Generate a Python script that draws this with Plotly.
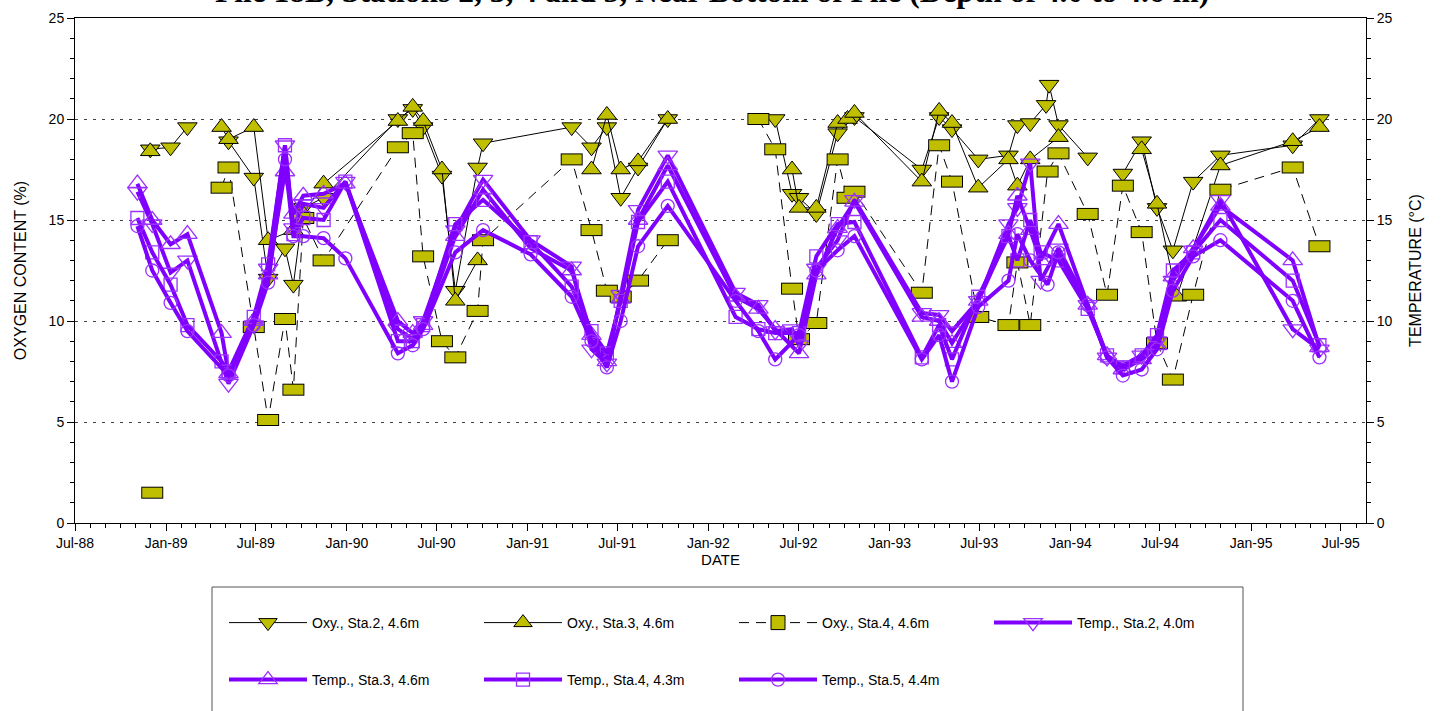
import plotly.graph_objects as go

# ---------------- DATA ----------------
# (None marks a gap in sampling: the line is broken there)
oxy2_dates = ["1988-11-30", "1989-01-10", "1989-02-13", "1989-03-25", "1989-05-07", "1989-06-27",
              "1989-07-26", "1989-08-29", "1989-09-15", "1989-10-05", "1989-11-15", "1990-04-14",
              "1990-05-14", "1990-06-04", "1990-07-12", "1990-08-08", "1990-09-22", "1990-10-03",
              "1991-03-31", "1991-05-10", "1991-06-10", "1991-07-08", "1991-08-12", "1991-10-11",
              "1992-01-15", "1992-05-15", "1992-06-18", "1992-07-02", "1992-08-06", "1992-09-18",
              "1992-10-22", "1993-03-07", "1993-04-11", "1993-05-07", "1993-06-29", "1993-08-29",
              "1993-09-16", "1993-10-12", "1993-11-13", "1993-11-19", "1993-12-08", "1994-02-05",
              "1994-03-10", "1994-04-17", "1994-05-25", "1994-06-25", "1994-07-27", "1994-09-06",
              "1994-10-31", "1995-03-26", "1995-05-19"]
oxy2_vals = [18.5, 18.6, 19.6, None, 18.9, 17.1,
             12.1, 13.6, 11.8, 15.6, 16.1, 20.0,
             20.5, 19.6, 17.2, 11.5, 17.6, 18.8,
             19.6, 18.6, 19.6, 16.1, 17.6, 20.0,
             None, 20.0, 16.3, 16.1, 15.3, 19.3,
             20.1, 17.5, 20.1, 19.5, 18.0, 18.2,
             19.7, 19.8, 20.7, 21.7, 19.7, 18.1,
             None, 17.3, 18.9, 15.6, 13.5, 16.9,
             18.2, 18.7, 20.0]

oxy3_dates = ["1988-11-30", "1989-02-01", "1989-04-23", "1989-05-07", "1989-06-27", "1989-07-26",
              "1989-09-15", "1989-10-05", "1989-11-15", "1990-04-14", "1990-05-14", "1990-06-04",
              "1990-07-12", "1990-08-08", "1990-09-22", "1991-01-15", "1991-05-10", "1991-06-10",
              "1991-07-08", "1991-08-12", "1991-10-11", "1992-01-15", "1992-06-18", "1992-07-02",
              "1992-08-06", "1992-09-18", "1992-10-08", "1992-10-22", "1993-03-07", "1993-04-11",
              "1993-05-07", "1993-06-29", "1993-08-29", "1993-09-16", "1993-10-12", "1993-12-08",
              "1994-03-10", "1994-05-25", "1994-06-25", "1994-08-04", "1994-10-31", "1995-03-26",
              "1995-05-19"]
oxy3_vals = [18.4, None, 19.6, 19.0, 19.6, 14.0,
             14.5, 15.3, 16.8, 19.9, 20.6, 19.9,
             17.5, 11.0, 13.0, None, 17.5, 20.2,
             17.5, 17.9, 20.0, None, 17.5, 15.6,
             15.6, 19.8, 20.0, 20.3, 16.9, 20.4,
             19.8, 16.6, 18.0, 16.7, 18.0, 19.1,
             None, 18.5, 15.8, 11.2, 17.7, 18.9,
             19.6]

oxy4_dates = ["1988-12-04", "1989-02-15", "1989-04-23", "1989-05-07", "1989-06-27", "1989-07-26",
              "1989-08-29", "1989-09-15", "1989-10-05", "1989-11-15", "1990-04-14", "1990-05-14",
              "1990-06-04", "1990-07-12", "1990-08-08", "1990-09-22", "1990-10-03", "1991-03-31",
              "1991-05-10", "1991-06-10", "1991-07-08", "1991-08-12", "1991-10-11", "1992-01-15",
              "1992-04-11", "1992-05-15", "1992-06-18", "1992-07-02", "1992-08-06", "1992-09-18",
              "1992-10-08", "1992-10-22", "1993-03-07", "1993-04-11", "1993-05-07", "1993-06-29",
              "1993-08-29", "1993-09-16", "1993-10-12", "1993-11-16", "1993-12-08", "1994-02-05",
              "1994-03-16", "1994-04-17", "1994-05-25", "1994-06-25", "1994-07-27", "1994-09-06",
              "1994-10-31", "1995-03-26", "1995-05-19"]
oxy4_vals = [1.5, None, 16.6, 17.6, 9.7, 5.1,
             10.1, 6.6, 15.1, 13.0, 18.6, 19.3,
             13.2, 9.0, 8.2, 10.5, 14.0, 18.0,
             14.5, 11.5, 11.2, 12.0, 14.0, None,
             20.0, 18.5, 11.6, 9.1, 9.9, 18.0,
             16.1, 16.4, 11.4, 18.7, 16.9, 10.2,
             9.8, 12.9, 9.8, 17.4, 18.3, 15.3,
             11.3, 16.7, 14.4, 8.9, 7.1, 11.3,
             16.5, 17.6, 13.7]

temp2_dates = ["1988-11-04", "1988-12-04", "1989-01-10", "1989-02-13", "1989-05-07", "1989-06-27",
               "1989-07-26", "1989-08-29", "1989-09-15", "1989-10-05", "1989-11-15", "1989-12-29",
               "1990-04-14", "1990-05-14", "1990-06-04", "1990-08-08", "1990-10-03", "1991-01-07",
               "1991-03-31", "1991-05-10", "1991-06-10", "1991-07-08", "1991-08-12", "1991-10-11",
               "1992-02-25", "1992-04-11", "1992-05-15", "1992-06-18", "1992-07-02", "1992-08-06",
               "1992-09-18", "1992-10-22", "1993-03-07", "1993-04-11", "1993-05-07", "1993-06-29",
               "1993-08-29", "1993-09-16", "1993-10-12", "1993-11-02", "1993-12-08", "1994-02-05",
               "1994-03-16", "1994-04-17", "1994-05-25", "1994-06-25", "1994-07-27", "1994-09-06",
               "1994-10-31", "1995-03-26", "1995-05-19"]
temp2_vals = [16.4, 14.8, 12.4, 13.0, 6.9, 9.8,
              12.6, 18.7, 14.6, 15.8, 15.6, 16.9,
              9.6, 9.1, 10.0, 14.5, 17.0, 14.0,
              12.7, 8.6, 7.9, 11.3, 15.5, 18.2,
              11.4, 10.8, 9.5, 9.6, 8.8, 12.6,
              14.0, 16.0, 10.4, 10.3, 9.5, 11.0,
              14.8, 15.6, 17.8, 12.0, 13.6, 10.8,
              8.2, 7.8, 8.3, 9.0, 12.0, 13.5,
              16.0, 9.6, 8.6]

temp3_dates = ["1988-11-04", "1988-12-04", "1989-01-10", "1989-02-13", "1989-04-23", "1989-05-07",
               "1989-06-27", "1989-07-26", "1989-08-29", "1989-09-15", "1989-10-05", "1989-11-15",
               "1989-12-29", "1990-04-14", "1990-05-14", "1990-06-04", "1990-08-08", "1990-10-03",
               "1991-01-07", "1991-03-31", "1991-05-10", "1991-06-10", "1991-07-08", "1991-08-12",
               "1991-10-11", "1992-02-25", "1992-04-11", "1992-05-15", "1992-07-02", "1992-08-06",
               "1992-09-18", "1992-10-22", "1993-03-07", "1993-04-11", "1993-05-07", "1993-06-29",
               "1993-08-29", "1993-09-16", "1993-10-12", "1993-11-02", "1993-12-08", "1994-02-05",
               "1994-03-16", "1994-04-17", "1994-05-25", "1994-06-25", "1994-07-27", "1994-09-06",
               "1994-10-31", "1995-03-26", "1995-05-19"]
temp3_vals = [16.8, 15.0, 13.8, 14.3, 9.4, 7.4,
              10.0, 12.3, 17.4, 15.3, 16.2, 16.3,
              16.8, 10.0, 9.4, 9.8, 14.2, 16.5,
              13.6, 12.5, 9.3, 8.0, 11.1, 15.0,
              17.7, 11.2, 10.6, 9.6, 8.4, 12.3,
              14.6, 15.9, 10.2, 10.0, 8.9, 11.0,
              14.3, 16.2, 14.5, 13.0, 14.8, 10.8,
              8.3, 7.6, 8.1, 8.8, 12.2, 13.6,
              15.7, 13.0, 8.7]

temp4_dates = ["1988-11-04", "1988-12-04", "1989-01-10", "1989-02-13", "1989-04-23", "1989-05-07",
               "1989-06-27", "1989-07-26", "1989-08-29", "1989-09-15", "1989-10-05", "1989-11-15",
               "1989-12-29", "1990-04-14", "1990-05-14", "1990-06-04", "1990-08-08", "1990-10-03",
               "1991-01-07", "1991-03-31", "1991-05-10", "1991-06-10", "1991-07-08", "1991-08-12",
               "1991-10-11", "1992-02-25", "1992-04-11", "1992-05-15", "1992-07-02", "1992-08-06",
               "1992-09-18", "1992-10-22", "1993-03-07", "1993-04-11", "1993-05-07", "1993-06-29",
               "1993-08-29", "1993-09-16", "1993-10-12", "1993-11-02", "1993-12-08", "1994-02-05",
               "1994-03-16", "1994-04-17", "1994-05-25", "1994-06-25", "1994-07-27", "1994-09-06",
               "1994-10-31", "1995-03-26", "1995-05-19"]
temp4_vals = [15.1, 13.4, 11.8, 9.8, 8.0, 7.5,
              10.2, 12.8, 18.7, 14.3, 15.1, 15.0,
              16.9, 9.0, 9.0, 9.8, 14.8, 16.0,
              13.9, 11.7, 9.5, 8.4, 11.0, 14.9,
              16.9, 10.2, 9.6, 9.4, 9.4, 13.2,
              14.8, 14.9, 8.2, 9.8, 8.1, 11.2,
              14.2, 13.0, 15.0, 13.4, 13.0, 10.6,
              8.3, 7.7, 8.3, 9.3, 12.5, 13.4,
              15.0, 12.0, 8.8]

temp5_dates = ["1988-11-04", "1988-12-04", "1989-01-10", "1989-02-13", "1989-05-07", "1989-06-27",
               "1989-07-26", "1989-08-29", "1989-09-15", "1989-10-05", "1989-11-15", "1989-12-29",
               "1990-04-14", "1990-05-14", "1990-06-04", "1990-08-08", "1990-10-03", "1991-01-07",
               "1991-03-31", "1991-05-10", "1991-06-10", "1991-07-08", "1991-08-12", "1991-10-11",
               "1992-02-25", "1992-04-11", "1992-05-15", "1992-07-02", "1992-08-06", "1992-09-18",
               "1992-10-22", "1993-03-07", "1993-04-11", "1993-05-07", "1993-06-29", "1993-08-29",
               "1993-09-16", "1993-10-12", "1993-11-16", "1993-12-08", "1994-02-05", "1994-03-16",
               "1994-04-17", "1994-05-25", "1994-06-25", "1994-07-27", "1994-09-06", "1994-10-31",
               "1995-03-26", "1995-05-19"]
temp5_vals = [14.7, 12.5, 10.9, 9.5, 7.3, 9.8,
              11.9, 18.0, 14.2, 14.2, 14.1, 13.1,
              8.4, 8.8, 9.6, 13.4, 14.5, 13.3,
              11.2, 9.0, 7.7, 10.0, 13.7, 15.7,
              11.0, 9.5, 8.1, 9.3, 12.5, 13.5,
              14.2, 8.1, 9.3, 7.0, 10.7, 12.0,
              14.3, 13.0, 11.8, 13.4, 10.8, 8.2,
              7.3, 7.6, 8.6, 11.5, 13.2, 14.0,
              11.0, 8.2]

names = ["Oxy., Sta.2, 4.6m", "Oxy., Sta.3, 4.6m", "Oxy., Sta.4, 4.6m", "Temp., Sta.2, 4.0m",
         "Temp., Sta.3, 4.6m", "Temp., Sta.4, 4.3m", "Temp., Sta.5, 4.4m"]

title_text = "Pile 18B, Stations 2, 3, 4 and 5, Near Bottom of Pile (Depth of 4.0 to 4.6 m)"

# ---------------- STYLE ----------------
OLIVE = "#BFBF00"
PURPLE = "#8000FF"
MK_PURPLE = "#9B30FF"
FONT = "Arial, Liberation Sans, sans-serif"

W, H = 1446, 711
L, R, T, B = 75, 80, 18, 188
PW, PH = W - L - R, H - T - B


def px_x(p):                  # screen pixel -> paper fraction
    return (p - L) / PW


def px_y(p):
    return (H - B - p) / PH


fig = go.Figure()

fig.add_trace(go.Scatter(
    x=oxy2_dates, y=oxy2_vals, mode="lines+markers", name=names[0], legend="legend",
    line=dict(color="black", width=1),
    marker=dict(symbol="triangle-down", size=17, color=OLIVE, line=dict(color="black", width=1))))
fig.add_trace(go.Scatter(
    x=oxy3_dates, y=oxy3_vals, mode="lines+markers", name=names[1], legend="legend",
    line=dict(color="black", width=1),
    marker=dict(symbol="triangle-up", size=17, color=OLIVE, line=dict(color="black", width=1))))
fig.add_trace(go.Scatter(
    x=oxy4_dates, y=oxy4_vals, mode="lines", showlegend=False, hoverinfo="skip",
    line=dict(color="black", width=1, dash="10px,7px")))
fig.add_trace(go.Scatter(
    x=oxy4_dates, y=oxy4_vals, mode="markers", showlegend=False, hoverinfo="skip",
    marker=dict(symbol="line-ew", size=15.7, line=dict(color="black", width=12))))
fig.add_trace(go.Scatter(
    x=oxy4_dates, y=oxy4_vals, mode="markers", showlegend=False,
    marker=dict(symbol="line-ew", size=14.3, line=dict(color=OLIVE, width=10))))
fig.add_trace(go.Scatter(
    x=[None], y=[None], mode="lines+markers", name=names[2], legend="legend",
    line=dict(color="black", width=1, dash="10px,7px"),
    marker=dict(symbol="square", size=14, color=OLIVE, line=dict(color="black", width=1))))

temp_sets = [
    (temp2_dates, temp2_vals, "triangle-down-open", 17, names[3], "legend"),
    (temp3_dates, temp3_vals, "triangle-up-open", 17, names[4], "legend2"),
    (temp4_dates, temp4_vals, "square-open", 13, names[5], "legend2"),
    (temp5_dates, temp5_vals, "circle-open", 13, names[6], "legend2"),
]
for d, v, sym, sz, nm, lg in temp_sets:
    fig.add_trace(go.Scatter(
        x=d, y=v, yaxis="y2", mode="lines+markers", name=nm, legend=lg,
        line=dict(color=PURPLE, width=4),
        marker=dict(symbol=sym, size=sz, color=MK_PURPLE, line=dict(color=MK_PURPLE, width=1.3))))

axis_font = dict(family=FONT, size=14, color="black")
title_font = dict(family=FONT, size=16, color="black")

legend_common = dict(orientation="h", xanchor="left", yanchor="top",
                     entrywidth=162, entrywidthmode="pixels", itemwidth=78,
                     font=dict(family=FONT, size=14, color="black"),
                     bgcolor="rgba(0,0,0,0)", borderwidth=0, traceorder="normal")

fig.update_layout(
    width=W, height=H,
    margin=dict(l=L, r=R, t=T, b=B, pad=0, autoexpand=False),
    paper_bgcolor="white", plot_bgcolor="white",
    font=dict(family=FONT, size=14, color="black"),
    xaxis=dict(
        type="date", range=["1988-07-01", "1995-08-21"], automargin=False,
        tick0="1988-07-01", dtick="M6", tickformat="%b-%y",
        ticks="outside", ticklen=7, tickcolor="black", tickwidth=1,
        minor=dict(dtick="M1", tick0="1988-07-01", ticks="outside", ticklen=4, tickcolor="black", showgrid=False),
        showline=True, linecolor="black", linewidth=1, mirror=True,
        showgrid=False, zeroline=False, tickfont=axis_font,
        title=dict(text="DATE", font=dict(family=FONT, size=15, color="black"), standoff=4)),
    yaxis=dict(
        range=[0, 25], tick0=0, dtick=5, automargin=False,
        ticks="outside", ticklen=7, tickcolor="black",
        minor=dict(dtick=1, ticks="outside", ticklen=4, tickcolor="black", showgrid=False),
        showline=True, linecolor="black", linewidth=1,
        showgrid=True, gridcolor="#444444", griddash="3px,6px", gridwidth=1,
        zeroline=False, tickfont=axis_font,
        title=dict(text="OXYGEN CONTENT (%)", font=title_font, standoff=18)),
    yaxis2=dict(
        overlaying="y", side="right", range=[0, 25], tick0=0, dtick=5, automargin=False,
        ticks="outside", ticklen=7, tickcolor="black",
        minor=dict(dtick=1, ticks="outside", ticklen=4, tickcolor="black", showgrid=False),
        showline=True, linecolor="black", linewidth=1,
        showgrid=False, zeroline=False, tickfont=axis_font,
        title=dict(text="TEMPERATURE (°C)", font=title_font, standoff=18)),
    legend=dict(x=px_x(224), y=px_y(607), **legend_common),
    legend2=dict(x=px_x(224), y=px_y(664), **legend_common),
    shapes=[dict(type="rect", xref="paper", yref="paper",
                 x0=px_x(212), x1=px_x(1243), y0=px_y(745), y1=px_y(587),
                 line=dict(color="#555555", width=1), fillcolor="rgba(0,0,0,0)", layer="above")],
    annotations=[dict(text="<b>" + title_text + "</b>", xref="paper", yref="paper",
                      x=px_x(712), y=px_y(11), xanchor="center", yanchor="bottom",
                      showarrow=False,
                      font=dict(family="Liberation Serif, Times New Roman, serif", size=31.5, color="black"))],
    showlegend=True,
)

# remove the browser's default 8px page margin so the figure sits at the window origin
fig.write_html("out.html",
               config={"displayModeBar": False},
               post_script="document.body.style.margin='0';document.body.style.overflow='hidden';")
